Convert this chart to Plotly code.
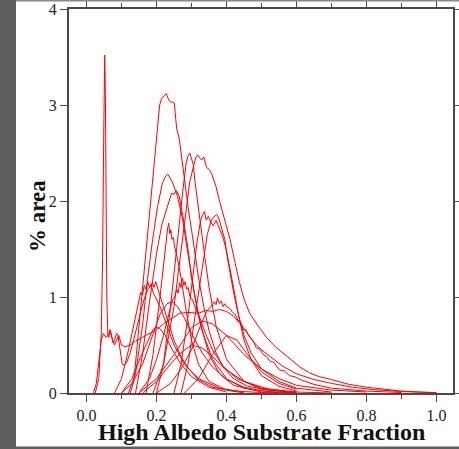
import plotly.graph_objects as go

# ---------------- data ----------------
spike_x = [0.025,0.035,0.042,0.046,0.049,0.051,0.052,0.054,0.056,0.058,0.061,0.064,0.067,0.071,0.076,0.081,0.086,0.09,0.094,0.098,0.102,0.108,0.115,0.125,0.135,0.145,0.155,0.165,0.175,0.182,0.188,0.193,0.198,0.204,0.21,0.22,0.235,0.25,0.27,0.29,0.32,0.36,0.42,0.5,0.6]
spike_y = [0,0.15,0.6,1.4,2.6,3.3,3.52,3.1,2.0,1.0,0.6,0.58,0.66,0.6,0.52,0.56,0.62,0.6,0.5,0.38,0.3,0.29,0.32,0.42,0.55,0.7,0.85,0.98,1.08,1.12,1.15,1.1,1.16,1.08,1.02,0.9,0.72,0.55,0.38,0.26,0.14,0.06,0.02,0.005,0]

flat_x = [0.02,0.028,0.036,0.042,0.048,0.055,0.062,0.068,0.074,0.08,0.086,0.092,0.1,0.11,0.125,0.14,0.16,0.18,0.2,0.22,0.24,0.266,0.29,0.32,0.34,0.36,0.38,0.4,0.42,0.44,0.46,0.48,0.5,0.53,0.56,0.6,0.65,0.7,0.76,0.82,0.9,1.0]
flat_y = [0,0.1,0.35,0.55,0.62,0.58,0.6,0.65,0.56,0.5,0.55,0.6,0.5,0.48,0.5,0.54,0.58,0.62,0.66,0.72,0.77,0.83,0.84,0.83,0.86,0.85,0.87,0.85,0.8,0.72,0.62,0.52,0.45,0.36,0.28,0.2,0.14,0.1,0.06,0.035,0.015,0.003]

tall_x = [0.125,0.135,0.145,0.155,0.165,0.175,0.185,0.195,0.2,0.205,0.209,0.215,0.222,0.228,0.234,0.24,0.246,0.251,0.255,0.258,0.265,0.272,0.28,0.29,0.3,0.31,0.32,0.335,0.35,0.37,0.39,0.42,0.46,0.52,0.6,0.7]
tall_y = [0,0.12,0.5,0.9,1.25,1.62,2.02,2.42,2.64,2.85,3.0,3.07,3.1,3.12,3.06,3.03,3.03,3.02,2.85,2.75,2.65,2.45,2.2,1.94,1.7,1.45,1.2,0.9,0.65,0.42,0.27,0.15,0.07,0.03,0.01,0]

d1_x = [0.2,0.22,0.24,0.26,0.275,0.285,0.29,0.295,0.3,0.305,0.31,0.32,0.335,0.35,0.37,0.4,0.45,0.5,0.6]
d1_y = [0,0.3,0.9,1.6,2.1,2.4,2.47,2.5,2.45,2.38,2.2,1.9,1.5,1.1,0.7,0.35,0.12,0.04,0]

d2_x = [0.19,0.22,0.25,0.27,0.285,0.295,0.305,0.312,0.318,0.325,0.33,0.335,0.343,0.35,0.357,0.37,0.38,0.395,0.41,0.425,0.437,0.45,0.466,0.49,0.514,0.54,0.56,0.585,0.61,0.637,0.665,0.7,0.75,0.8,0.85,0.9,0.95,1.0]
d2_y = [0,0.3,0.9,1.5,1.95,2.2,2.35,2.45,2.48,2.44,2.43,2.46,2.35,2.33,2.29,2.15,2.0,1.8,1.6,1.35,1.15,0.98,0.83,0.7,0.58,0.48,0.42,0.34,0.27,0.21,0.17,0.14,0.09,0.06,0.04,0.02,0.01,0.003]

e1_x = [0.12,0.14,0.16,0.174,0.189,0.203,0.217,0.225,0.232,0.24,0.245,0.26,0.275,0.29,0.31,0.33,0.36,0.4,0.45,0.55]
e1_y = [0,0.2,0.7,1.18,1.6,1.94,2.19,2.25,2.28,2.23,2.2,2.05,1.8,1.45,1.0,0.65,0.35,0.15,0.05,0]

e2_x = [0.14,0.16,0.18,0.2,0.215,0.23,0.243,0.25,0.257,0.265,0.275,0.29,0.3,0.32,0.35,0.38,0.42,0.5]
e2_y = [0,0.4,0.95,1.45,1.75,1.93,2.08,2.07,2.11,2.05,1.85,1.5,1.2,0.8,0.4,0.2,0.08,0.01]

g_x = [0.17,0.19,0.21,0.222,0.228,0.232,0.235,0.238,0.241,0.244,0.248,0.252,0.26,0.27,0.285,0.3,0.32,0.35,0.4,0.45]
g_y = [0,0.4,1.0,1.42,1.62,1.72,1.77,1.66,1.7,1.6,1.62,1.52,1.4,1.2,0.85,0.55,0.3,0.12,0.03,0]

h1_x = [0.25,0.27,0.29,0.305,0.315,0.325,0.332,0.337,0.342,0.348,0.355,0.36,0.366,0.372,0.378,0.385,0.395,0.403,0.41,0.42,0.435,0.45,0.47,0.5,0.55,0.6,0.7]
h1_y = [0,0.3,0.8,1.25,1.55,1.78,1.86,1.89,1.8,1.84,1.78,1.82,1.84,1.86,1.82,1.72,1.6,1.4,1.25,1.05,0.8,0.6,0.42,0.25,0.12,0.05,0.01]

h2_x = [0.27,0.29,0.31,0.33,0.345,0.355,0.362,0.37,0.378,0.39,0.4,0.41,0.42,0.435,0.45,0.47,0.5,0.55,0.6]
h2_y = [0,0.3,0.8,1.3,1.65,1.78,1.74,1.8,1.72,1.62,1.48,1.3,1.1,0.8,0.55,0.35,0.18,0.07,0.02]

f1_x = [0.08,0.1,0.12,0.14,0.155,0.16,0.165,0.17,0.175,0.18,0.185,0.19,0.2,0.21,0.23,0.25,0.28,0.32,0.38,0.45]
f1_y = [0,0.15,0.45,0.8,1.05,1.02,1.12,1.08,1.16,1.1,1.13,1.05,0.98,0.9,0.7,0.5,0.3,0.15,0.05,0.01]

f2_x = [0.15,0.18,0.2,0.22,0.235,0.246,0.252,0.258,0.262,0.266,0.27,0.274,0.278,0.282,0.286,0.29,0.296,0.303,0.312,0.323,0.34,0.36,0.39,0.43,0.5,0.6]
f2_y = [0,0.15,0.35,0.6,0.82,0.97,1.0,1.08,1.04,1.15,1.1,1.2,1.12,1.16,1.08,1.1,1.0,0.97,0.88,0.79,0.62,0.45,0.28,0.15,0.05,0.01]

f3_x = [0.2,0.24,0.27,0.3,0.32,0.343,0.355,0.365,0.37,0.374,0.38,0.385,0.39,0.395,0.4,0.41,0.417,0.425,0.432,0.44,0.448,0.455,0.466,0.475,0.485,0.495,0.505,0.514,0.525,0.535,0.551,0.565,0.58,0.595,0.61,0.65,0.7,0.8,0.9]
f3_y = [0,0.1,0.25,0.45,0.65,0.85,0.9,0.95,0.92,0.99,0.93,0.96,0.9,0.93,0.9,0.88,0.84,0.82,0.76,0.74,0.66,0.66,0.58,0.55,0.47,0.46,0.4,0.38,0.33,0.32,0.24,0.23,0.18,0.17,0.14,0.09,0.05,0.02,0.005]

i_x = [0.1,0.13,0.155,0.175,0.19,0.2,0.21,0.225,0.245,0.27,0.3,0.35,0.4]
i_y = [0,0.15,0.38,0.55,0.66,0.69,0.67,0.6,0.45,0.3,0.17,0.06,0.01]

p_x = [0.1,0.13,0.16,0.19,0.21,0.23,0.245,0.26,0.28,0.3,0.33,0.36,0.4,0.45,0.5,0.6]
p_y = [0,0.1,0.3,0.6,0.82,0.93,0.95,0.9,0.78,0.62,0.42,0.27,0.14,0.06,0.02,0]

l_x = [0.15,0.2,0.25,0.3,0.33,0.36,0.4,0.45,0.5,0.55,0.6,0.7,0.8]
l_y = [0,0.15,0.4,0.68,0.75,0.72,0.6,0.4,0.25,0.15,0.08,0.03,0.01]

n_x = [0.28,0.32,0.36,0.4,0.43,0.46,0.5,0.55,0.6]
n_y = [0,0.15,0.4,0.6,0.55,0.4,0.22,0.1,0.04]

m_x = [0.16,0.2,0.24,0.27,0.3,0.33,0.36,0.4,0.45,0.52,0.6]
m_y = [0,0.12,0.3,0.42,0.5,0.47,0.38,0.24,0.12,0.04,0]

curves = [(spike_x, spike_y), (flat_x, flat_y), (tall_x, tall_y), (d1_x, d1_y),
          (d2_x, d2_y), (e1_x, e1_y), (e2_x, e2_y), (g_x, g_y), (h1_x, h1_y),
          (h2_x, h2_y), (f1_x, f1_y), (f2_x, f2_y), (f3_x, f3_y), (i_x, i_y),
          (p_x, p_y), (l_x, l_y), (n_x, n_y), (m_x, m_y)]

x_ticks = [0.0, 0.2, 0.4, 0.6, 0.8, 1.0]
x_tick_text = ["0.0", "0.2", "0.4", "0.6", "0.8", "1.0"]
y_ticks = [0, 1, 2, 3, 4]

# ---------------- figure ----------------
fig = go.Figure()
for cx, cy in curves:
    fig.add_trace(go.Scatter(x=cx, y=cy, mode="lines",
                             line=dict(color="#ff0000", width=1),
                             showlegend=False, hoverinfo="skip"))

serif = "Liberation Serif, Times New Roman, serif"
axis_col = "#4a4a4a"

fig.update_layout(
    width=459, height=449,
    margin=dict(l=69, r=6, t=9, b=56, autoexpand=False),
    paper_bgcolor="white", plot_bgcolor="white",
    font=dict(family=serif, size=16, color="#222"),
    xaxis=dict(range=[-0.05, 1.047], tickvals=x_ticks, ticktext=x_tick_text,
               ticks="outside", ticklen=7, tickwidth=1, tickcolor=axis_col,
               showline=True, linecolor=axis_col, linewidth=2, mirror="allticks",
               showgrid=False, zeroline=False, automargin=False,
               minor=dict(tickvals=[0.1, 0.3, 0.5, 0.7, 0.9], ticks="outside",
                          ticklen=4, tickcolor=axis_col, showgrid=False),
               tickfont=dict(family=serif, size=16, color="#222")),
    yaxis=dict(range=[0, 4], tickvals=y_ticks,
               ticks="outside", ticklen=7, tickwidth=1, tickcolor=axis_col,
               showline=True, linecolor=axis_col, linewidth=2, mirror="allticks",
               showgrid=False, zeroline=False, automargin=False,
               tickfont=dict(family=serif, size=16, color="#222")),
    annotations=[
        dict(text="<b>High Albedo Substrate Fraction</b>", xref="paper", yref="paper",
             x=(261 - 69) / 384, y=(393 - 432) / 384, xanchor="center", yanchor="middle",
             showarrow=False, font=dict(family=serif, size=24, color="#111")),
        dict(text="<b>% area</b>", xref="paper", yref="paper",
             x=(37 - 69) / 384, y=(393 - 216) / 384, xanchor="center", yanchor="middle",
             textangle=-90, showarrow=False, font=dict(family=serif, size=23, color="#111")),
    ],
    shapes=[
        dict(type="rect", xref="paper", yref="paper", x0=-0.2, x1=(16 - 69) / 384,
             y0=-0.2, y1=1.1, fillcolor="#5e5e5e", line=dict(width=0), layer="below"),
        dict(type="rect", xref="paper", yref="paper", x0=-0.2, x1=1.1,
             y0=-0.2, y1=(393 - 446.5) / 384, fillcolor="#5e5e5e", line=dict(width=0), layer="below"),
        dict(type="line", xref="paper", yref="paper", x0=(16 - 69) / 384, x1=1.1,
             y0=(393 - 0.8) / 384, y1=(393 - 0.8) / 384, line=dict(color="#8a8a8a", width=1.5)),
    ],
)

fig.write_html("out.html", config={"displayModeBar": False},
               post_script="document.body.style.margin='0';document.body.style.overflow='hidden';")
